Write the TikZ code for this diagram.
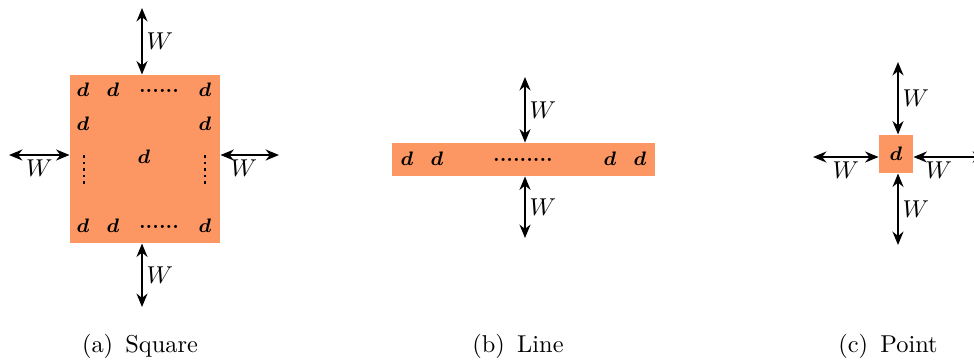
\documentclass[tikz,border=0pt]{standalone}
\usepackage{bm}
\usetikzlibrary{arrows.meta,positioning}
\definecolor{patch}{RGB}{252,150,98}
\tikzset{
  region/.style={fill=patch, inner sep=0pt},
  flux/.style={{Stealth[length=5.5pt,width=4.5pt]}-{Stealth[length=5.5pt,width=4.5pt]}, line width=0.8pt},
  cell/.style={font=\footnotesize, inner sep=0pt},
  wlab/.style={inner sep=1.5pt},
  vdots/.style={line width=1.1pt, dash pattern=on 1.1pt off 1.6pt}
}
\begin{document}
\begin{tikzpicture}[x=0.41pt,y=-0.41pt]
   \useasboundingbox (0,0) rectangle (974,362);

   % (a) Square
   \node[region, minimum width=61.5pt, minimum height=68.9pt] (sq) at (145,159) {};
   \foreach \cx/\cy in {83/90, 113/90, 205/90, 83/124, 205/124, 144/157, 83/226, 113/226, 205/226}
      \node[cell] at (\cx,\cy) {$\bm{d}$};
   \node[cell] (sqtop) at (159,91) {\textbf{......}};
   \node[cell] (sqbot) at (159,227) {\textbf{......}};
   \draw[vdots] (84,155) -- (84,186);
   \draw[vdots] (205,155) -- (205,186);
   \coordinate (aN) at (142,8);
   \coordinate (aS) at (142,307);
   \coordinate (aW) at (9,155);
   \coordinate (aE) at (279,155);
   \draw[flux] (aN) -- (aN |- sq.north) node[midway, right, wlab] {$W$};
   \draw[flux] (aS |- sq.south) -- (aS) node[midway, right, wlab] {$W$};
   \draw[flux] (aW) -- (aW -| sq.west) node[midway, below, wlab] {$W$};
   \draw[flux] (aE -| sq.east) -- (aE) node[pos=0.4, below, wlab] {$W$};
   \node (capa) at (140,346) {(a)\enspace Square};

   % (b) Line
   \node[region, minimum width=107.8pt, minimum height=13.5pt] (ln) at (523.5,159.5) {};
   \foreach \cx in {407, 437, 610, 640}
      \node[cell] at (\cx,159) {$\bm{d}$};
   \node[cell] (lnmid) at (523,160) {\textbf{.........}};
   \coordinate (bN) at (525,77);
   \coordinate (bS) at (525,238);
   \draw[flux] (bN) -- (bN |- ln.north) node[midway, right, wlab] {$W$};
   \draw[flux] (bS |- ln.south) -- (bS) node[midway, right, wlab] {$W$};
   \node (capb) at (518,346) {(b)\enspace Line};

   % (c) Point
   \node[region, minimum width=13.9pt, minimum height=15.6pt] (pt) at (896,154) {};
   \node[cell] at (pt) {$\bm{d}$};
   \coordinate (cN) at (898,62);
   \coordinate (cS) at (898,245);
   \coordinate (cW) at (813,157);
   \coordinate (cE) at (986,157);
   \draw[flux] (cN) -- (cN |- pt.north) node[midway, right, wlab] {$W$};
   \draw[flux] (cS |- pt.south) -- (cS) node[midway, right, wlab] {$W$};
   \draw[flux] (cW) -- (cW -| pt.west) node[midway, below, wlab] {$W$};
   \draw[flux] (cE -| pt.east) -- (cE) node[pos=0.35, below, wlab] {$W$};
   \node (capc) at (888,346) {(c)\enspace Point};
\end{tikzpicture}
\end{document}
